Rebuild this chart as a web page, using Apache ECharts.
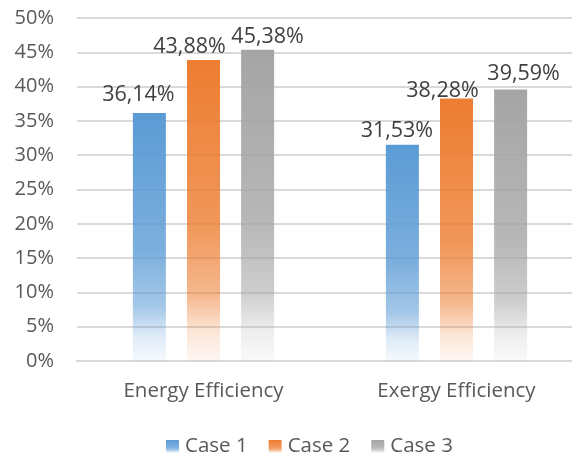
<!DOCTYPE html>
<html>
<head>
<meta charset="utf-8">
<script src="https://cdn.jsdelivr.net/npm/echarts@6/dist/echarts.min.js"></script>
<style>
  html, body { margin: 0; padding: 0; background: #fff; overflow: hidden; }
  #chart { width: 590px; height: 457px; }
</style>
</head>
<body>
<div id="chart"></div>
<script>
// Efficiency comparison of three cases
const categories = ['Energy Efficiency', 'Exergy Efficiency'];
const seriesNames = ['Case 1', 'Case 2', 'Case 3'];
const case1 = [36.14, 31.53];
const case2 = [43.88, 38.28];
const case3 = [45.38, 39.59];
const yTicks = [0, 5, 10, 15, 20, 25, 30, 35, 40, 45, 50];
const baseColors = ['91,155,213', '237,125,49', '165,165,165'];

// per-label nudges [dx, dy] so neighbouring value labels don't collide
const labelNudges = [
  [[-11, -2.5], [-5.5, 2.5]],
  [[-14, 3], [-14, 8]],
  [[10, 3.5], [13, 0.5]]
];

const FONT = 'Open Sans, Liberation Sans, sans-serif';

// vertical fade from the solid series colour to near white at the base
function fade(rgb) {
  return new echarts.graphic.LinearGradient(0, 0, 0, 1, [
    { offset: 0, color: 'rgba(' + rgb + ',1)' },
    { offset: 0.55, color: 'rgba(' + rgb + ',0.8)' },
    { offset: 0.78, color: 'rgba(' + rgb + ',0.55)' },
    { offset: 0.9, color: 'rgba(' + rgb + ',0.2)' },
    { offset: 1, color: 'rgba(' + rgb + ',0.06)' }
  ]);
}

const values = [case1, case2, case3];
const series = seriesNames.map((name, i) => ({
  name: name,
  type: 'bar',
  data: values[i].map((v, j) => ({ value: v, label: { offset: labelNudges[i][j] } })),
  barWidth: 33,
  barGap: '64%',
  itemStyle: { color: fade(baseColors[i]) },
  label: {
    show: true,
    position: 'top',
    distance: 5,
    color: '#404040',
    fontFamily: FONT,
    fontSize: 21.5,
    formatter: p => p.value.toFixed(2).replace('.', ',') + '%'
  }
}));

const chart = echarts.init(document.getElementById('chart'), null, { renderer: 'canvas' });
chart.setOption({
  animation: false,
  backgroundColor: '#fff',
  grid: { left: 77, top: 18, width: 506, height: 343, containLabel: false },
  legend: {
    data: seriesNames,
    top: 431,
    left: 161,
    itemWidth: 13,
    itemHeight: 13,
    itemGap: 21,
    icon: 'rect',
    textStyle: { color: '#595959', fontFamily: FONT, fontSize: 20.5, padding: [0, 0, 0, 1] }
  },
  xAxis: {
    type: 'category',
    data: categories,
    axisLine: { lineStyle: { color: '#d9d9d9', width: 2 } },
    axisTick: { show: false },
    axisLabel: { color: '#595959', fontFamily: FONT, fontSize: 20.5, margin: 20 }
  },
  yAxis: {
    type: 'value',
    min: yTicks[0],
    max: yTicks[yTicks.length - 1],
    interval: 5,
    axisLine: { show: false },
    axisTick: { show: false },
    axisLabel: { color: '#595959', fontFamily: FONT, fontSize: 20, margin: 23, formatter: v => v + '%' },
    splitLine: { lineStyle: { color: '#d9d9d9', width: 2 } }
  },
  series: series
});
</script>
</body>
</html>
